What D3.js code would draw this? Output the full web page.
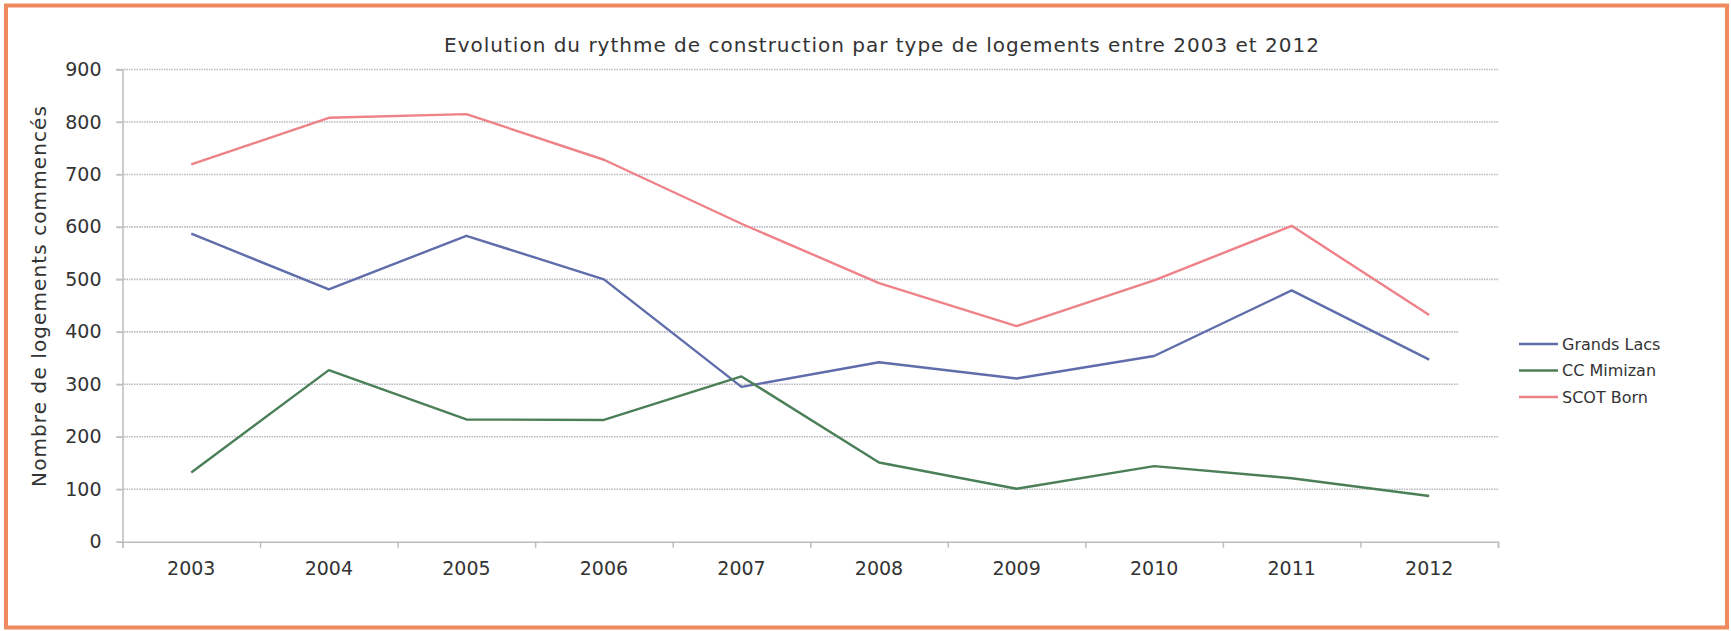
<!DOCTYPE html>
<html>
<head>
<meta charset="utf-8">
<script src="https://cdn.jsdelivr.net/npm/d3@7"></script>
<style>
  html, body { margin: 0; padding: 0; background: #fff; }
  svg text { font-family: "DejaVu Sans", Verdana, sans-serif; fill: #333; }
</style>
</head>
<body>
<div id="chart"></div>
<script>
var years = ["2003", "2004", "2005", "2006", "2007", "2008", "2009", "2010", "2011", "2012"];
var grandsLacs = [587, 481, 583, 500, 295, 342, 311, 354, 479, 347];
var ccMimizan  = [132, 327, 233, 232, 315, 151, 101, 144, 121, 87];
var scotBorn   = [719, 808, 815, 728, 606, 493, 411, 498, 602, 432];
var seriesNames = ["Grands Lacs", "CC Mimizan", "SCOT Born"];
var yTicks = [0, 100, 200, 300, 400, 500, 600, 700, 800, 900];

var colors = ["#5f6dab", "#4b7f57", "#ef8288"];
var title = "Evolution du rythme de construction par type de logements entre 2003 et 2012",
    yTitle = "Nombre de logements commencés";

var width = 1731, height = 631,
    plotLeft = 122.5, plotRight = 1498, plotTop = 69.5, plotBottom = 541.7;

var series = [grandsLacs, ccMimizan, scotBorn].map((vals, i) => ({
    name: seriesNames[i],
    color: colors[i],
    values: vals.map((v, j) => ({year: years[j], value: v}))
}));

var svg = d3.select("#chart").append("svg")
    .attr("width", width)
    .attr("height", height);

// orange frame
svg.append("rect")
    .attr("x", 6).attr("y", 5.5)
    .attr("width", width - 10).attr("height", height - 9)
    .attr("fill", "#fff")
    .attr("stroke", "#ef8a5e")
    .attr("stroke-width", 4);

var xScale = d3.scaleBand().domain(years).range([plotLeft, plotRight]),
    xEdges = d3.scaleLinear().domain([0, years.length]).range([plotLeft, plotRight]),
    yScale = d3.scaleLinear().domain([0, 900]).range([plotBottom, plotTop]);

// dotted gridlines
svg.append("g").selectAll("line")
    .data(yTicks.filter(d => d > 0))
    .enter().append("line")
    .attr("x1", plotLeft - 6).attr("x2", plotRight)
    .attr("y1", d => yScale(d)).attr("y2", d => yScale(d))
    .attr("stroke", "#b9bac2")
    .attr("stroke-width", 1.6)
    .attr("stroke-dasharray", "1.5,1");

// y axis
var yGroup = svg.append("g")
    .attr("transform", "translate(" + plotLeft + ",0)")
    .call(d3.axisLeft(yScale).tickValues(yTicks).tickSize(6).tickPadding(15));
yGroup.select(".domain").attr("stroke", "#bdbdbd").attr("stroke-width", 1.5);
yGroup.selectAll(".tick line").attr("stroke", "#bdbdbd").attr("stroke-width", 1.5);
yGroup.selectAll("text").attr("font-size", 19).style("fill", "#333");

// x axis: tick marks between categories, labels centred
var xTicks = svg.append("g")
    .attr("transform", "translate(0," + plotBottom + ")")
    .call(d3.axisBottom(xEdges).ticks(years.length).tickSize(6).tickFormat(""));
xTicks.select(".domain").attr("stroke", "#bdbdbd").attr("stroke-width", 1.5);
xTicks.selectAll(".tick line").attr("stroke", "#bdbdbd").attr("stroke-width", 1.5);

var xLabels = svg.append("g")
    .attr("transform", "translate(0," + plotBottom + ")")
    .call(d3.axisBottom(xScale).tickSize(0).tickPadding(20));
xLabels.select(".domain").remove();
xLabels.selectAll("text").attr("font-size", 19).style("fill", "#333");

// lines
var line = d3.line()
    .x(d => xScale(d.year) + xScale.bandwidth() / 2)
    .y(d => yScale(d.value));

svg.append("g").selectAll("path")
    .data(series)
    .enter().append("path")
    .attr("d", d => line(d.values))
    .attr("fill", "none")
    .attr("stroke", d => d.color)
    .attr("stroke-width", 2.4)
    .attr("stroke-linejoin", "round");

// title
svg.append("text")
    .attr("x", 882).attr("y", 52)
    .attr("text-anchor", "middle")
    .attr("font-size", 20)
    .attr("letter-spacing", 1)
    .text(title);

// y axis title
svg.append("text")
    .attr("transform", "translate(46,296) rotate(-90)")
    .attr("text-anchor", "middle")
    .attr("font-size", 20)
    .attr("letter-spacing", 1.1)
    .text(yTitle);

// legend
var legend = svg.append("g").attr("transform", "translate(1458,318)");
legend.append("rect")
    .attr("width", 250).attr("height", 104)
    .attr("fill", "#fff");

var items = legend.selectAll("g.item")
    .data(series)
    .enter().append("g")
    .attr("class", "item")
    .attr("transform", (d, i) => "translate(0," + (26 + i * 26.5) + ")");

items.append("line")
    .attr("x1", 61).attr("x2", 100)
    .attr("stroke", d => d.color)
    .attr("stroke-width", 2.4);

items.append("text")
    .attr("x", 104).attr("dy", "0.35em")
    .attr("font-size", 16)
    .text(d => d.name);
</script>
</body>
</html>
